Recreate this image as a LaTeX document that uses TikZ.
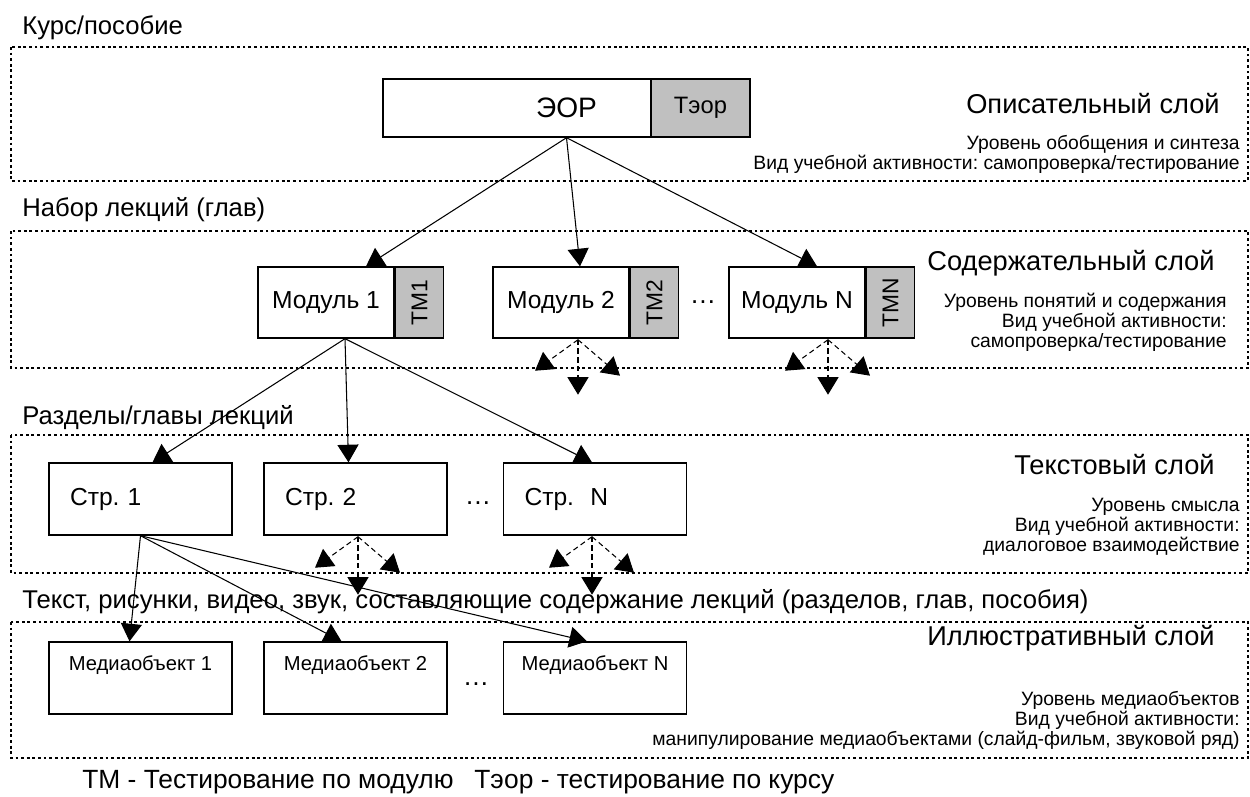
\documentclass[tikz,border=0pt]{standalone}
\usepackage{fontspec}
\setmainfont{Liberation Sans}
\usepackage{graphicx}
\usetikzlibrary{arrows.meta, positioning, calc}

\definecolor{tmgray}{RGB}{192,192,192}
\frenchspacing

\tikzset{
	layer/.style={draw, line width=1pt, dash pattern=on 1.6pt off 1.6pt},
	caption/.style={anchor=west, inner sep=0pt, font=\fontsize{14.6}{17}\selectfont},
	title/.style={anchor=east, inner sep=0pt, font=\fontsize{15.5}{18}\selectfont},
	note/.style={anchor=east, inner sep=0pt, align=right, font=\fontsize{11}{11.4}\selectfont},
	eorbox/.style={draw, line width=0.8pt, minimum width=7.34cm, minimum height=1.16cm, inner sep=0pt, font=\fontsize{16}{18}\selectfont},
	modbox/.style={draw, line width=0.8pt, minimum width=2.72cm, minimum height=1.42cm, inner sep=0pt, font=\fontsize{14}{16}\selectfont},
	tmbox/.style={draw, line width=0.8pt, fill=tmgray, minimum height=1.42cm, inner sep=0pt, font=\fontsize{13}{15}\selectfont},
	pagebox/.style={draw, line width=0.8pt, minimum width=3.66cm, minimum height=1.44cm, text width=2.82cm, inner xsep=0.42cm, align=left, font=\fontsize{14}{16}\selectfont},
	mediabox/.style={draw, line width=0.8pt, minimum width=3.66cm, minimum height=1.44cm, inner sep=0pt, text height=0.3cm, text depth=0.6cm, font=\fontsize{11.5}{13}\selectfont},
	gap/.style={inner sep=0pt, font=\fontsize{15}{17}\selectfont},
	link/.style={-{Triangle[length=10pt, width=12pt]}, line width=0.6pt},
	maybe/.style={link, dash pattern=on 3pt off 2pt},
}

\begin{document}
\begin{tikzpicture}[x=0.02cm, y=-0.02cm]
	\useasboundingbox (0,0) rectangle (1250,796);
	
	% Layers
	\draw[layer] (11,47) rectangle (1248,181);
	\draw[layer] (11,231) rectangle (1248,368);
	\draw[layer] (11,435) rectangle (1248,573);
	\draw[layer] (11,622) rectangle (1248,758);
	
	\node[caption] (cap1) at (22,28) {Курс/пособие};
	\node[caption] (cap2) at (22,210) {Набор лекций (глав)};
	\node[caption] (cap3) at (22,418) {Разделы/главы лекций};
	\node[caption] (cap4) at (22,602) {Текст, рисунки, видео, звук, составляющие содержание лекций (разделов, глав, пособия)};
	
	% Layer names and notes
	\node[title] (ttl1) at (1220,104) {Описательный слой};
	\node[note] (nt1) at (1240,154) {Уровень обобщения и синтеза\\Вид учебной активности: самопроверка/тестирование};
	\node[title] (ttl2) at (1215,263) {Содержательный слой};
	\node[note] (nt2) at (1227,322) {Уровень понятий и содержания\\Вид учебной активности:\\самопроверка/тестирование};
	\node[title] (ttl3) at (1215,465) {Текстовый слой};
	\node[note] (nt3) at (1240,527) {Уровень смысла\\Вид учебной активности:\\диалоговое взаимодействие};
	\node[title] (ttl4) at (1215,638) {Иллюстративный слой};
	\node[note] (nt4) at (1240,720) {Уровень медиаобъектов\\Вид учебной активности:\\манипулирование медиаобъектами (слайд-фильм, звуковой ряд)};
	
	% Course
	\node[eorbox] (eor) at (566.5,108) {ЭОР};
	\node[tmbox, minimum width=1.98cm, minimum height=1.16cm, font=\fontsize{13.5}{15}\selectfont, anchor=east] (teor) at (eor.east) {Тэор};
	
	% Modules
	\node[modbox] (m1) at (326,302.5) {Модуль 1};
	\node[tmbox, minimum width=0.96cm, right=0pt of m1] (tm1) {\rotatebox{90}{ТМ1}};
	\node[modbox] (m2) at (561,302.5) {Модуль 2};
	\node[tmbox, minimum width=0.96cm, right=0pt of m2] (tm2) {\rotatebox{90}{ТМ2}};
	\node[gap] (dots1) at (703,302) {\dots};
	\node[modbox] (mN) at (797,302.5) {Модуль N};
	\node[tmbox, minimum width=0.96cm, right=0pt of mN] (tmN) {\rotatebox{90}{ТМN}};
	
	% Pages
	\node[pagebox] (s1) at (140.5,499) {Стр. 1};
	\node[pagebox] (s2) at (355.5,499) {Стр. 2};
	\node[gap] (dots2) at (478,503) {\dots};
	\node[pagebox] (sN) at (595,499) {Стр.\ \ N};
	
	% Media objects
	\node[mediabox] (o1) at (140.5,678) {Медиаобъект 1};
	\node[mediabox] (o2) at (355.5,678) {Медиаобъект 2};
	\node[gap] (dots3) at (476,684) {\dots};
	\node[mediabox] (oN) at (595,678) {Медиаобъект N};
	
	% Links
	\draw[link] (eor.south) -- ($(m1.north)+(40,0)$);
	\draw[link] (eor.south) -- ($(m2.north)+(19,0)$);
	\draw[link] (eor.south) -- ($(mN.north)+(20,0)$);
	
	\coordinate (m1out) at ($(m1.south)+(19,0)$);
	\draw[link] (m1out) -- ($(s1.north)+(12,0)$);
	\draw[link] (m1out) -- ($(s2.north)+(-7,0)$);
	\draw[link] (m1out) -- ($(sN.north)+(-3,0)$);
	
	\draw[link] (s1.south) -- ($(o1.north)+(-11,0)$);
	\draw[link] (s1.south) -- ($(o2.north)+(-14,0)$);
	\draw[link] (s1.south) -- ($(oN.north)+(-8,0)$);
	
	% Further links (dashed)
	\foreach \src/\dx/\dy in {m2/17/55, mN/31/55, s2/2.5/58, sN/-3/58} {
		\coordinate (\src-o) at ($(\src.south)+(\dx,1)$);
		\coordinate (\src-l) at ($(\src-o)+(-43,31)$);
		\coordinate (\src-d) at ($(\src-o)+(0,\dy)$);
		\coordinate (\src-r) at ($(\src-o)+(42,36)$);
		\draw[maybe] (\src-o) -- (\src-l);
		\draw[maybe] (\src-o) -- (\src-d);
		\draw[maybe] (\src-o) -- (\src-r);
	}
	
	% Legend
	\node[caption, font=\fontsize{15}{17}\selectfont] (leg1) at (82,782) {ТМ - Тестирование по модулю};
	\node[caption, font=\fontsize{15}{17}\selectfont] (leg2) at (474,782) {Тэор - тестирование по курсу};
\end{tikzpicture}
\end{document}
